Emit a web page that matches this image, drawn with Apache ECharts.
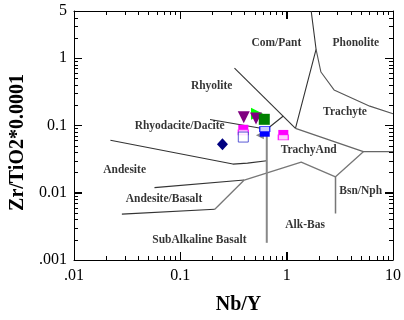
<!DOCTYPE html>
<html>
<head>
<meta charset="utf-8">
<script src="https://cdn.jsdelivr.net/npm/echarts@6/dist/echarts.min.js"></script>
<style>
  html, body { margin: 0; padding: 0; background: #fff; }
  #main { width: 404px; height: 320px; }
</style>
</head>
<body>
<div id="main"></div>
<script>
// Nb/Y vs Zr/TiO2 classification plot

var xLabels = { 0.01: '.01', 0.1: '0.1', 1: '1', 10: '10' };
var yLabels = { 0.001: '.001', 0.01: '0.01', 0.1: '0.1', 1: '1', 5: '5' };
var xMajor = [0.01, 0.1, 1, 10];
var yMajor = [0.001, 0.01, 0.1, 1];
var xMinor = [0.02, 0.03, 0.04, 0.05, 0.06, 0.07, 0.08, 0.09,
              0.2, 0.3, 0.4, 0.5, 0.6, 0.7, 0.8, 0.9,
              2, 3, 4, 5, 6, 7, 8, 9];
var yMinor = [0.002, 0.003, 0.004, 0.005, 0.006, 0.007, 0.008, 0.009,
              0.02, 0.03, 0.04, 0.05, 0.06, 0.07, 0.08, 0.09,
              0.2, 0.3, 0.4, 0.5, 0.6, 0.7, 0.8, 0.9,
              2, 3, 4];

// field boundaries (dark)
var comPantTop = [[1.70, 5], [1.89, 1.35], [1.21, 0.0905]];
var rhyoliteLine = [[0.323, 0.71], [1.21, 0.0905]];
var rhyodaciteLine = [[0.19, 0.122], [0.65, 0.0875], [0.93, 0.138]];
var andesiteLine = [[0.022, 0.060], [0.312, 0.0266], [0.428, 0.0275], [0.65, 0.0298]];
var andBasaltTop = [[0.0571, 0.0119], [0.399, 0.0154]];
var andBasaltBottom = [[0.0282, 0.0048], [0.211, 0.00567]];
// field boundaries (grey)
var phonoliteLine = [[1.89, 1.35], [2.10, 0.62], [2.79, 0.336], [6.05, 0.193], [10, 0.149]];
var trachyteLine = [[1.21, 0.0905], [5.26, 0.0406], [10, 0.0406]];
var trachyAndLine = [[0.399, 0.0154], [1.37, 0.0284], [2.88, 0.0172], [5.26, 0.0406]];
var basaltDiag = [[0.211, 0.00567], [0.399, 0.0154]];
var bsnNphLine = [[2.88, 0.0172], [2.88, 0.0049]];
var subAlkLine = [[0.65, 0.0875], [0.65, 0.0018]];

var fieldNames = [
  { name: 'Com/Pant', value: [0.80, 1.65] },
  { name: 'Phonolite', value: [4.47, 1.65] },
  { name: 'Rhyolite', value: [0.197, 0.38] },
  { name: 'Trachyte', value: [3.54, 0.16] },
  { name: 'Rhyodacite/Dacite', value: [0.0986, 0.0967] },
  { name: 'TrachyAnd', value: [1.61, 0.0434] },
  { name: 'Andesite', value: [0.0299, 0.0216] },
  { name: 'Andesite/Basalt', value: [0.0703, 0.00792] },
  { name: 'Bsn/Nph', value: [4.97, 0.0107] },
  { name: 'Alk-Bas', value: [1.49, 0.00333] },
  { name: 'SubAlkaline Basalt', value: [0.151, 0.00195] }
];

// samples
var limeTri = [[0.526, 0.149]];
var purpleTri = [[0.395, 0.132], [0.515, 0.126]];
var greenSq = [[0.616, 0.123]];
var navyDiamond = [[0.249, 0.0525]];
var magentaHalf = [[0.391, 0.086], [0.93, 0.0721]];
var greyTri = [[0.56, 0.0716]];
var blueOpen = [[0.391, 0.067]];
var blueHalf = [[0.622, 0.0805]];

var serif = '"Liberation Serif", "DejaVu Serif", serif';
var X_MIN = 0.01, X_MAX = 10, Y_MIN = 0.001, Y_MAX = 5;

function boundary(data, color, width) {
  return {
    type: 'line', data: data, symbol: 'none', silent: true, animation: false,
    lineStyle: { color: color, width: width }, z: 1
  };
}

function marks(data, symbol, size, color, extra) {
  var s = {
    type: 'scatter', data: data, symbol: symbol, symbolSize: size,
    itemStyle: { color: color, opacity: 1 }, animation: false, silent: true, z: 3
  };
  if (extra) {
    for (var k in extra) s[k] = extra[k];
  }
  return s;
}

var myChart = echarts.init(document.getElementById('main'));

function axisBase() {
  return {
    type: 'log', logBase: 10,
    axisLine: { show: true, lineStyle: { color: '#000', width: 1 } },
    axisTick: { show: true, inside: true, length: 8, lineStyle: { color: '#000', width: 1 } },
    splitLine: { show: false }
  };
}

var option = {
  grid: { left: 71, right: 7, top: 11, bottom: 56 },
  xAxis: [
    Object.assign(axisBase(), {
      min: X_MIN, max: X_MAX, position: 'bottom',
      axisLabel: {
        color: '#000', fontFamily: serif, fontSize: 16, margin: 8,
        formatter: function (v) { return xLabels[v] !== undefined ? xLabels[v] : ''; }
      },
      name: 'Nb/Y', nameLocation: 'middle', nameGap: 35,
      nameTextStyle: { color: '#000', fontFamily: serif, fontSize: 20, fontWeight: 'bold', padding: [0, 0, 0, 10] }
    }),
    Object.assign(axisBase(), {
      min: X_MIN, max: X_MAX, position: 'top', axisLabel: { show: false }
    })
  ],
  yAxis: [
    Object.assign(axisBase(), {
      min: Y_MIN, max: Y_MAX, position: 'left',
      axisLabel: {
        color: '#000', fontFamily: serif, fontSize: 16, margin: 7,
        formatter: function (v) { return yLabels[v] !== undefined ? yLabels[v] : ''; }
      },
      name: 'Zr/TiO2*0.0001', nameLocation: 'middle', nameGap: 46,
      nameTextStyle: { color: '#000', fontFamily: serif, fontSize: 20, fontWeight: 'bold', padding: [0, 14, 0, 0] }
    }),
    Object.assign(axisBase(), {
      min: Y_MIN, max: Y_MAX, position: 'right', axisLabel: { show: false }
    })
  ],
  series: [
    boundary(comPantTop, '#333', 1.1),
    boundary(rhyoliteLine, '#333', 1.1),
    boundary(rhyodaciteLine, '#333', 1.1),
    boundary(andesiteLine, '#333', 1.1),
    boundary(andBasaltTop, '#333', 1.1),
    boundary(andBasaltBottom, '#333', 1.1),
    boundary(phonoliteLine, '#555', 1.1),
    boundary(trachyteLine, '#666', 1.3),
    boundary(trachyAndLine, '#777', 1.3),
    boundary(basaltDiag, '#777', 1.3),
    boundary(bsnNphLine, '#777', 1.5),
    boundary(subAlkLine, '#888', 2),
    {
      type: 'scatter', data: fieldNames, symbolSize: 0, silent: true, animation: false, z: 4,
      label: {
        show: true, position: 'inside', formatter: function (p) { return p.name; },
        color: '#000', fontFamily: serif, fontSize: 11.5, fontWeight: 'bold'
      }
    },
    marks(limeTri, 'triangle', 12, '#00ff00', { symbolRotate: -90 }),
    marks(purpleTri, 'triangle', 12, '#800080', { symbolRotate: 180 }),
    marks(greenSq, 'rect', 11, '#008000'),
    marks(navyDiamond, 'diamond', [11, 12], '#000080'),
    marks(magentaHalf, 'rect', 10, '#ff00ff'),
    marks(magentaHalf, 'rect', [10, 5], '#fff', {
      symbolOffset: [0, 2.5], itemStyle: { color: '#fff', borderColor: '#ff00ff', borderWidth: 1 }
    }),
    marks(greyTri, 'triangle', 8, '#888', { symbolRotate: 90 }),
    marks(blueOpen, 'rect', 10, '#fff', {
      itemStyle: { color: '#fff', borderColor: '#3333cc', borderWidth: 1 }
    }),
    marks(blueHalf, 'rect', 10, '#0000ff'),
    marks(blueHalf, 'rect', [10, 5], '#fff', {
      symbolOffset: [0, -2.5], itemStyle: { color: '#fff', borderColor: '#0000ff', borderWidth: 1 }
    })
  ]
};

myChart.setOption(option);

// frame ticks on all four sides, placed through the axes' own scales
var tickEls = [];
function tickLine(x1, y1, x2, y2) {
  tickEls.push({
    type: 'line', silent: true, z: 100,
    shape: { x1: x1, y1: y1, x2: x2, y2: y2 },
    style: { stroke: '#000', lineWidth: 1 }
  });
}
function xTicks(values, len) {
  values.forEach(function (v) {
    var b = myChart.convertToPixel({ gridIndex: 0 }, [v, Y_MIN]);
    var t = myChart.convertToPixel({ gridIndex: 0 }, [v, Y_MAX]);
    var x = Math.round(b[0]) + 0.5;
    tickLine(x, b[1], x, b[1] - len);
    tickLine(x, t[1], x, t[1] + len);
  });
}
function yTicks(values, len) {
  values.forEach(function (v) {
    var l = myChart.convertToPixel({ gridIndex: 0 }, [X_MIN, v]);
    var r = myChart.convertToPixel({ gridIndex: 0 }, [X_MAX, v]);
    var y = Math.round(l[1]) + 0.5;
    tickLine(l[0], y, l[0] + len, y);
    tickLine(r[0], y, r[0] - len, y);
  });
}
xTicks(xMajor, 8);
xTicks(xMinor, 4);
yTicks(yMajor, 8);
yTicks(yMinor, 4);
myChart.setOption({ graphic: tickEls });
</script>
</body>
</html>
